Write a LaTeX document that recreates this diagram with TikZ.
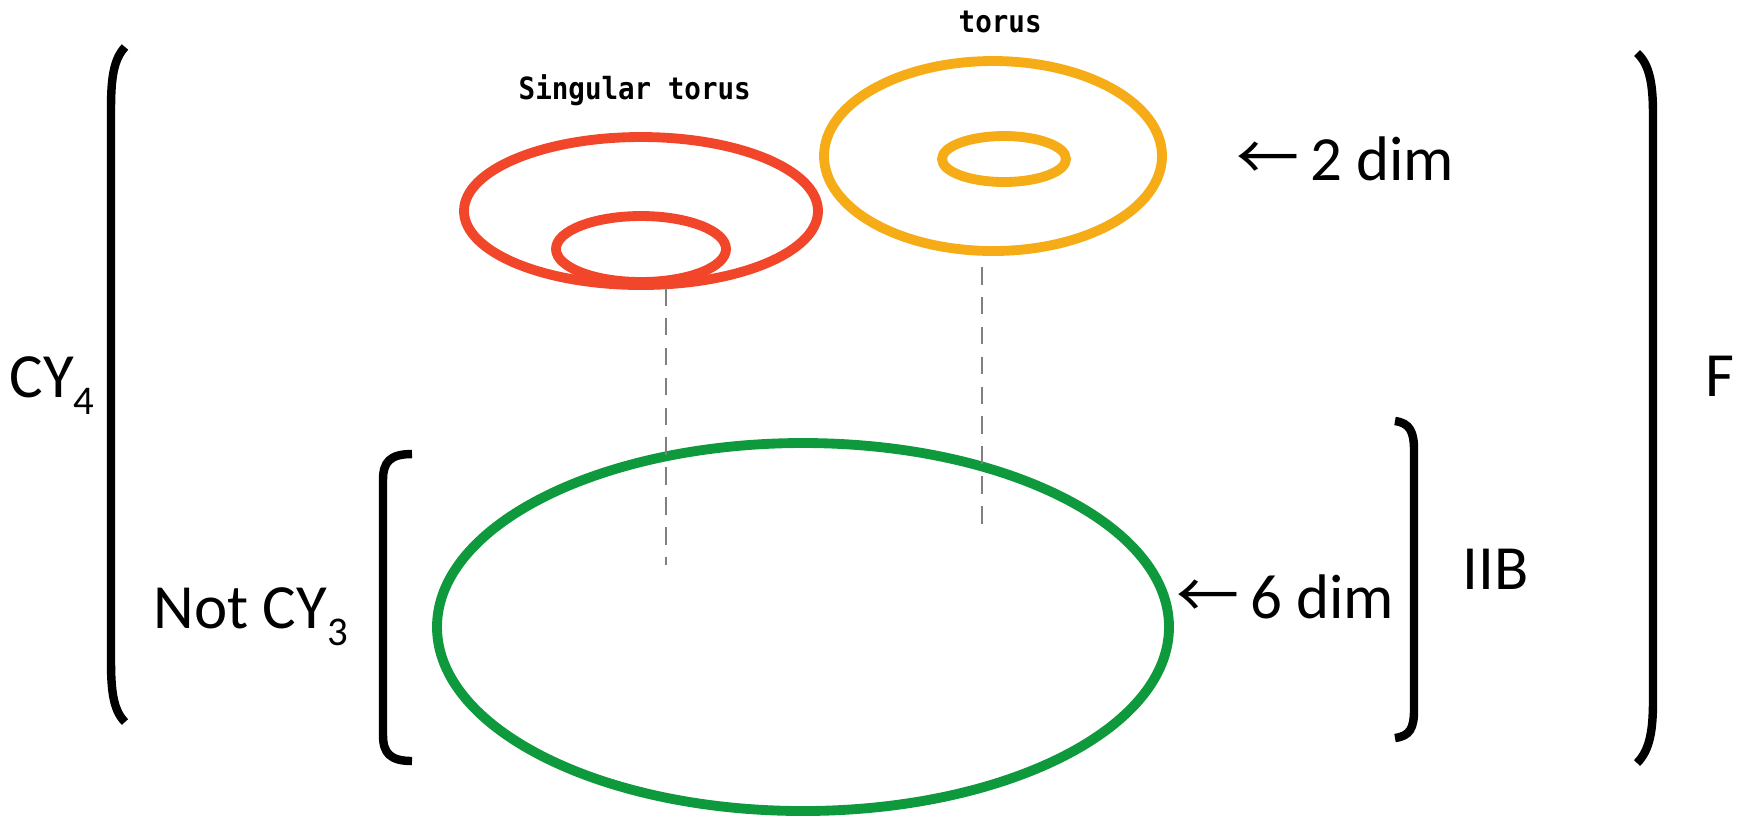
\documentclass[tikz,border=0pt]{standalone}
\usepackage{fontspec}
\setmainfont{Carlito}
\newfontfamily\labelfont[FakeStretch=0.9]{DejaVu Sans Mono}
\newfontfamily\arrowfont{Noto Sans CJK JP}

\definecolor{singred}{HTML}{F1462A}
\definecolor{torusorange}{HTML}{F5AC17}
\definecolor{basegreen}{HTML}{0E9A3C}

\newcommand{\lowidx}[1]{\raisebox{-0.28em}{\fontsize{11.6}{12}\selectfont #1}}

\tikzset{
    ring/.style={line width=2.8pt},
    fiber/.style={draw=gray, line width=0.75pt, dash pattern=on 5pt off 3.5pt},
    bracket/.style={draw=black, line width=2.4pt},
    biglabel/.style={font=\fontsize{17.9}{20}\selectfont, inner sep=0pt, anchor=base west},
    toruslabel/.style={font=\labelfont\fontsize{8.7}{10}\selectfont, inner sep=0pt, anchor=base west},
}

\begin{document}
\begin{tikzpicture}[x=0.01cm, y=-0.01cm]
    \useasboundingbox (0,0) rectangle (1746,817);

    % fibres over the base
    \draw[ring, singred] (641,211) ellipse [x radius=177, y radius=74];
    \draw[ring, singred] (641,249) ellipse [x radius=85, y radius=33];   % pinched cycle
    \draw[ring, torusorange] (993,156) ellipse [x radius=169, y radius=95];
    \draw[ring, torusorange] (1004,159) ellipse [x radius=62, y radius=23];
    % base
    \draw[ring, basegreen] (803,627) ellipse [x radius=366, y radius=184];

    \coordinate (singtop) at (666,288);
    \coordinate (singfoot) at (666,565);
    \coordinate (torustop) at (982,267);
    \coordinate (torusfoot) at (982,526);
    \draw[fiber] (singtop) -- (singfoot);
    \draw[fiber] (torustop) -- (torusfoot);

    \node[toruslabel] (singname) at (518,99) {\bfseries Singular torus};
    \node[toruslabel] (torusname) at (958,32) {\bfseries torus};

    % brackets
    \draw[bracket] (125,47) .. controls (113,60) and (111,80) .. (111,110)
        -- (111,660) .. controls (111,690) and (113,710) .. (125,722);        % CY4
    \draw[bracket] (412,454) .. controls (390,454) and (383,462) .. (383,480)
        -- (383,735) .. controls (383,753) and (390,761) .. (412,761);        % not CY3
    \draw[bracket] (1395,421) .. controls (1410,423) and (1414,432) .. (1414,450)
        -- (1414,710) .. controls (1414,728) and (1410,736) .. (1395,738);    % IIB
    \draw[bracket] (1637,53) .. controls (1650,65) and (1653,85) .. (1653,115)
        -- (1653,700) .. controls (1653,730) and (1650,750) .. (1637,763);    % F

    \node[biglabel] (cy4) at (9,397) {CY\lowidx{4}};
    \node[biglabel] (notcy3) at (153,628) {Not CY\lowidx{3}};
    \node[biglabel] (twodim) at (1236,180) {{\arrowfont ←}\,2 dim};
    \node[biglabel] (sixdim) at (1176,618) {{\arrowfont ←}\,6 dim};
    \node[biglabel] (iib) at (1462,589) {IIB};
    \node[biglabel] (fth) at (1705,396) {F};
\end{tikzpicture}
\end{document}
